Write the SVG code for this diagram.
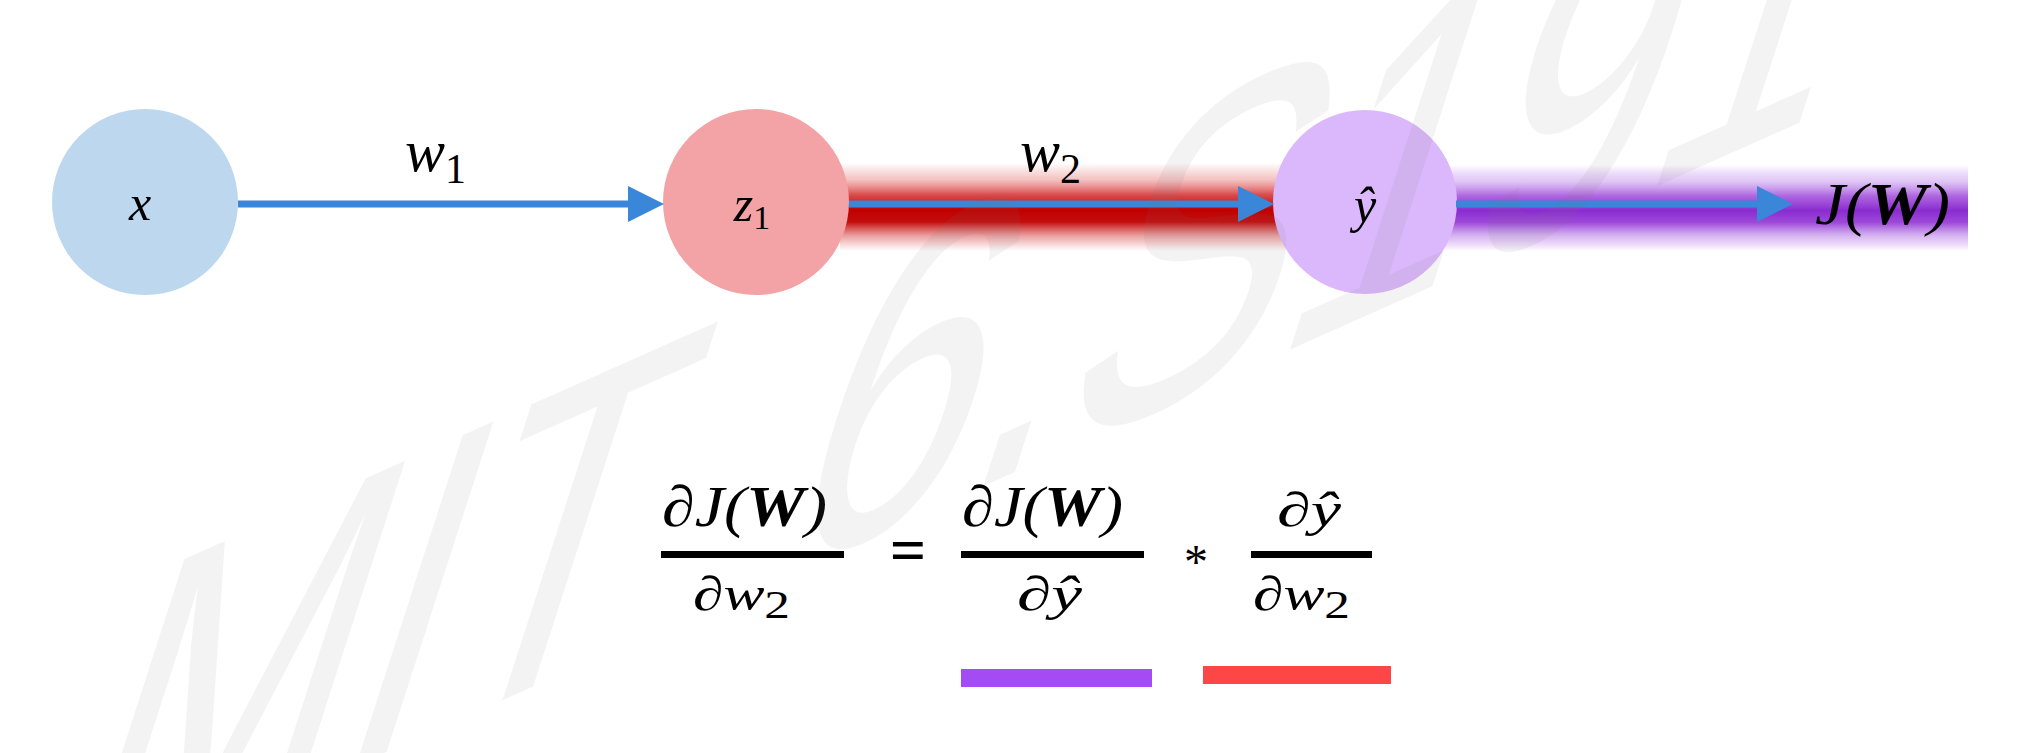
<svg xmlns="http://www.w3.org/2000/svg" width="2037" height="753" viewBox="0 0 2037 753">
<style>
.m{font-family:"Liberation Serif","DejaVu Serif",serif;font-style:italic;fill:#000}
.b{font-weight:bold}
.up{font-style:normal}
.edge{stroke:#3a86d8;stroke-width:7;fill:none;marker-end:url(#ah)}
.bar{fill:#000}
.wm{font-family:"Liberation Sans","DejaVu Sans",sans-serif;fill:#7f7f7f;fill-opacity:0.09}
</style>
<defs>
<marker id="ah" markerUnits="userSpaceOnUse" markerWidth="36" markerHeight="36" refX="2" refY="18" orient="auto">
<path d="M0,0 L36,18 L0,36 Z" fill="#3a86d8"/>
</marker>
<linearGradient id="gr" x1="0" y1="0" x2="0" y2="1">
<stop offset="0" stop-color="#e04040" stop-opacity="0"/>
<stop offset="0.19" stop-color="#e05050" stop-opacity="0.35"/>
<stop offset="0.36" stop-color="#d02020" stop-opacity="0.8"/>
<stop offset="0.53" stop-color="#c00000" stop-opacity="1"/>
<stop offset="0.67" stop-color="#c00000" stop-opacity="0.95"/>
<stop offset="0.83" stop-color="#d03030" stop-opacity="0.45"/>
<stop offset="1" stop-color="#e04040" stop-opacity="0"/>
</linearGradient>
<linearGradient id="gp" x1="0" y1="0" x2="0" y2="1">
<stop offset="0" stop-color="#a040e0" stop-opacity="0"/>
<stop offset="0.19" stop-color="#b070e8" stop-opacity="0.4"/>
<stop offset="0.36" stop-color="#9a40d8" stop-opacity="0.8"/>
<stop offset="0.53" stop-color="#8a2bd0" stop-opacity="1"/>
<stop offset="0.67" stop-color="#9335d5" stop-opacity="0.9"/>
<stop offset="0.83" stop-color="#a860e0" stop-opacity="0.45"/>
<stop offset="1" stop-color="#a040e0" stop-opacity="0"/>
</linearGradient>
</defs>
<rect width="2037" height="753" fill="#fff"/>
<g id="glow">
<rect x="840" y="163" width="450" height="88" fill="url(#gr)"/>
<rect x="1440" y="165" width="528" height="86" fill="url(#gp)"/>
</g>
<g id="node-x">
<circle cx="145" cy="202" r="93" fill="#bdd7ee"/>
<text class="m" x="140" y="220" font-size="50" text-anchor="middle">x</text>
</g>
<g id="node-z1">
<circle cx="756" cy="202" r="93" fill="#f3a3a6"/>
<text class="m" x="752" y="221" font-size="50" text-anchor="middle">z<tspan class="up" font-size="34" dy="8">1</tspan></text>
</g>
<g id="node-yhat">
<circle cx="1365" cy="202" r="92" fill="#dab8fb"/>
<text class="m" x="1365" y="222" font-size="50" text-anchor="middle">ŷ</text>
</g>
<g id="node-J">
<text class="m" x="1815" y="224" font-size="60" textLength="135" lengthAdjust="spacingAndGlyphs">J(<tspan class="b">W</tspan>)</text>
</g>
<g id="connectors">
<line class="edge" x1="238" y1="204" x2="630" y2="204"/>
<line class="edge" x1="849" y1="204" x2="1240" y2="204"/>
<line class="edge" x1="1456" y1="204" x2="1759" y2="204"/>
<text class="m" x="405" y="171" font-size="60">w<tspan class="up" font-size="42" dy="12">1</tspan></text>
<text class="m" x="1020" y="171" font-size="60">w<tspan class="up" font-size="42" dy="12">2</tspan></text>
</g>
<g id="formula">
<text class="m" x="662" y="526" font-size="58" textLength="165" lengthAdjust="spacingAndGlyphs">∂J(<tspan class="b">W</tspan>)</text>
<rect class="bar" x="661" y="551" width="183" height="7"/>
<text class="m" x="693" y="610" font-size="48" textLength="97" lengthAdjust="spacingAndGlyphs">∂w<tspan class="up" font-size="40" dy="8">2</tspan></text>
<text class="m up b" x="908" y="572" font-size="64" text-anchor="middle">=</text>
<text class="m" x="962" y="526" font-size="58" textLength="161" lengthAdjust="spacingAndGlyphs">∂J(<tspan class="b">W</tspan>)</text>
<rect class="bar" x="961" y="551" width="183" height="7"/>
<text class="m" x="1017" y="610" font-size="48" textLength="65" lengthAdjust="spacingAndGlyphs">∂ŷ</text>
<text class="m up" x="1196" y="578" font-size="48" text-anchor="middle">*</text>
<text class="m" x="1277" y="526" font-size="48" textLength="64" lengthAdjust="spacingAndGlyphs">∂ŷ</text>
<rect class="bar" x="1251" y="551" width="121" height="7"/>
<text class="m" x="1253" y="610" font-size="48" textLength="97" lengthAdjust="spacingAndGlyphs">∂w<tspan class="up" font-size="40" dy="8">2</tspan></text>
<rect x="961" y="669" width="191" height="18" fill="#a54bf4"/>
<rect x="1203" y="666" width="188" height="18" fill="#fd4646"/>
</g>
<text class="wm" transform="matrix(0.914,-0.407,-0.43,1.33,110,875)" font-size="361" x="-65">MIT<tspan dx="65"> 6.S191</tspan></text>
</svg>
